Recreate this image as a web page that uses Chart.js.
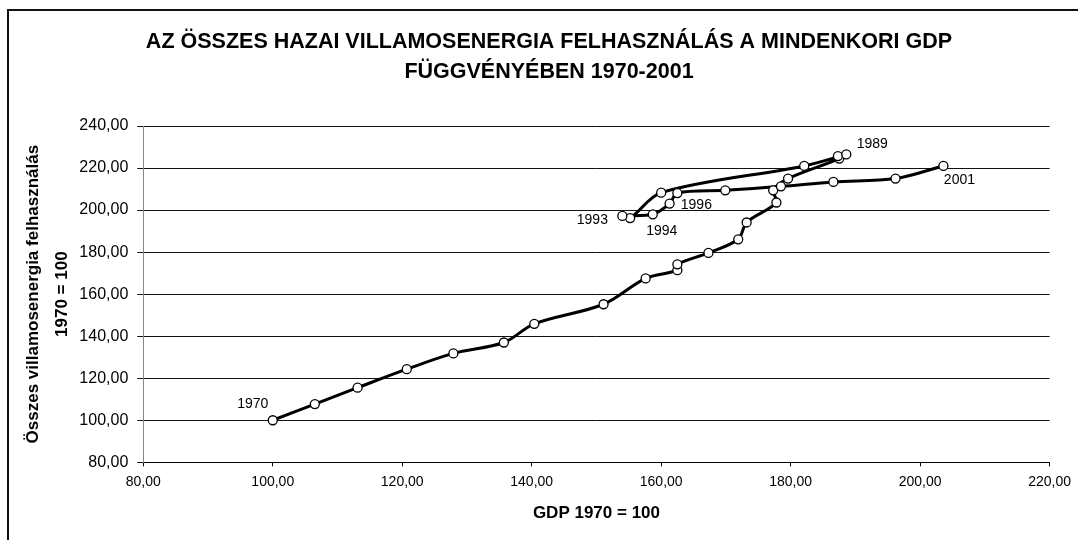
<!DOCTYPE html>
<html>
<head>
<meta charset="utf-8">
<script src="https://cdn.jsdelivr.net/npm/chart.js@4.4.1/dist/chart.umd.min.js"></script>
<style>
  html, body { margin: 0; padding: 0; background: #fff; }
  #wrap { width: 1078px; height: 540px; position: relative; }
</style>
</head>
<body>
<div id="wrap"><canvas id="gdpChart"></canvas></div>
<script>
// GDP (1970 = 100) vs total electricity use (1970 = 100), one point per year
const years = [1970, 1971, 1972, 1973, 1974, 1975, 1976, 1977, 1978, 1979,
               1980, 1981, 1982, 1983, 1984, 1985, 1986, 1987, 1988, 1989,
               1990, 1991, 1992, 1993, 1994, 1995, 1996, 1997, 1998, 1999,
               2000, 2001];
const gdp = [100.0, 106.5, 113.1, 120.7, 127.9, 135.7, 140.4, 151.1, 157.6, 162.5,
             162.5, 167.3, 171.9, 173.2, 177.8, 177.3, 179.6, 187.5, 187.3, 188.6,
             182.1, 160.0, 155.2, 154.0, 158.7, 161.3, 162.5, 169.9, 178.5, 186.6,
             196.2, 203.6];
const electricity = [100.0, 107.7, 115.5, 124.3, 131.8, 137.0, 145.9, 155.2, 167.5, 171.4,
                     174.2, 179.6, 186.1, 194.1, 203.6, 209.4, 215.0, 224.5, 225.7, 226.5,
                     221.0, 208.3, 196.2, 197.2, 198.0, 203.1, 208.1, 209.4, 211.3, 213.4,
                     215.0, 221.0];
const labeledYears = [1970, 1989, 1993, 1994, 1996, 2001];

const xTicks = [80, 100, 120, 140, 160, 180, 200, 220];
const yTicks = [80, 100, 120, 140, 160, 180, 200, 220, 240];

const titleLines = ['AZ ÖSSZES HAZAI VILLAMOSENERGIA FELHASZNÁLÁS A MINDENKORI GDP',
                    'FÜGGVÉNYÉBEN 1970-2001'];
const xTitle = 'GDP 1970 = 100';
const yTitle = ['Összes villamosenergia felhasználás', '1970 = 100'];

const FONT = "'Liberation Sans', Arial, sans-serif";
Chart.defaults.font.family = FONT;
Chart.defaults.color = '#000';

const fmt = v => Number(v).toFixed(2).replace('.', ',');

// where each year label sits relative to its marker
const labelOffsets = {1970: [-20, -16], 1989: [26, -10], 1993: [-30, 4],
                      1994: [9, 17], 1996: [19, 12], 2001: [16, 14]};

const framePlugin = {
    id: 'frame',
    beforeDraw(chart) {
        const ctx = chart.ctx;
        ctx.save();
        ctx.strokeStyle = '#111';
        ctx.lineWidth = 2;
        ctx.beginPath();
        ctx.moveTo(8, chart.height);
        ctx.lineTo(8, 10);
        ctx.lineTo(chart.width, 10);
        ctx.stroke();
        ctx.restore();
    },
    afterDraw(chart) {
        const ctx = chart.ctx;
        ctx.save();
        ctx.fillStyle = '#000';
        ctx.textAlign = 'center';
        ctx.textBaseline = 'middle';
        ctx.font = 'bold 21.5px ' + FONT;
        ctx.fillText(titleLines[0], 549, 42);
        ctx.fillText(titleLines[1], 549, 72);

        // year labels next to selected points
        const meta = chart.getDatasetMeta(0);
        ctx.font = '14px ' + FONT;
        labeledYears.forEach(yr => {
            const i = years.indexOf(yr);
            const pt = meta.data[i];
            const off = labelOffsets[yr] || [14, -10];
            ctx.fillText(String(yr), pt.x + off[0], pt.y + off[1]);
        });
        ctx.restore();
    }
};

const ctx = document.getElementById('gdpChart').getContext('2d');
new Chart(ctx, {
    type: 'scatter',
    data: {
        datasets: [{
            label: 'Villamosenergia',
            data: years.map((y, i) => ({ x: gdp[i], y: electricity[i] })),
            showLine: true,
            borderColor: '#000',
            borderWidth: 3,
            tension: 0.33,
            pointRadius: 4.5,
            pointBackgroundColor: '#fff',
            pointBorderColor: '#000',
            pointBorderWidth: 1.3
        }]
    },
    options: {
        responsive: true,
        maintainAspectRatio: false,
        animation: false,
        layout: { padding: { left: 10, right: 26, top: 126, bottom: 0 } },
        plugins: {
            legend: { display: false },
            tooltip: { enabled: false }
        },
        scales: {
            x: {
                type: 'linear',
                min: xTicks[0],
                max: xTicks[xTicks.length - 1],
                afterBuildTicks: s => { s.ticks = xTicks.map(v => ({ value: v })); },
                afterFit: s => { s.height = 77.7; },
                ticks: { font: { size: 14 }, color: '#000', padding: 7, callback: fmt },
                grid: { drawOnChartArea: false, drawTicks: true, tickLength: 4, color: '#000' },
                border: { color: '#000', width: 1 },
                title: {
                    display: true, text: xTitle, color: '#000',
                    font: { size: 17, weight: 'bold' },
                    padding: { top: 0, bottom: 16 }
                }
            },
            y: {
                type: 'linear',
                min: yTicks[0],
                max: yTicks[yTicks.length - 1],
                afterBuildTicks: s => { s.ticks = yTicks.map(v => ({ value: v })); },
                afterFit: s => { s.width = 133.3; },
                ticks: { font: { size: 16 }, color: '#000', padding: 9, callback: fmt },
                grid: { color: '#111', lineWidth: 1, tickLength: 6 },
                border: { color: '#888', width: 1 },
                title: {
                    display: true, text: yTitle, color: '#000',
                    font: { size: 17, weight: 'bold', lineHeight: 1.68 },
                    padding: { top: 9, bottom: 0 }
                }
            }
        }
    },
    plugins: [framePlugin]
});
</script>
</body>
</html>
